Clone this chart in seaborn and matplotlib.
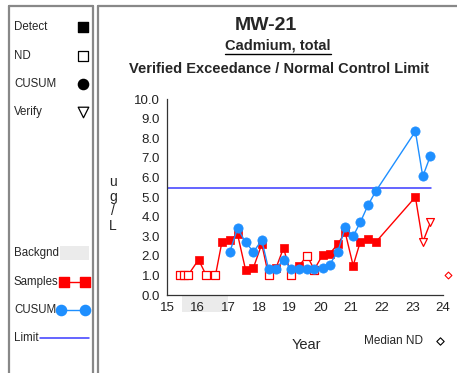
import seaborn as sns
import pandas as pd
import matplotlib.pyplot as plt
from matplotlib.patches import Rectangle
from matplotlib.lines import Line2D


# sample dates (2-digit decimal years) and results in ug/L
sample_year = [15.42, 15.55, 15.68, 16.03, 16.28, 16.58, 16.79, 17.05, 17.3, 17.56,
               17.82, 18.09, 18.31, 18.56, 18.8, 19.05, 19.31, 19.57, 19.8, 20.08,
               20.3, 20.57, 20.81, 21.07, 21.3, 21.56, 21.81, 23.1, 23.34, 23.59]
sample_value = [1.0, 1.0, 1.0, 1.8, 1.0, 1.0, 2.7, 2.8, 3.1, 1.3,
                1.4, 2.6, 1.0, 1.4, 2.4, 1.0, 1.5, 2.0, 1.3, 2.05,
                2.1, 2.6, 3.2, 1.5, 2.7, 2.85, 2.7, 5.0, 2.7, 3.7]
sample_kind = ['ND', 'ND', 'ND', 'Detect', 'ND', 'ND', 'Detect', 'Detect', 'Detect', 'Detect',
               'Detect', 'Detect', 'ND', 'Detect', 'Detect', 'ND', 'Detect', 'ND', 'ND', 'Detect',
               'Detect', 'Detect', 'Detect', 'Detect', 'Detect', 'Detect', 'Detect', 'Detect', 'Verify', 'Verify']

# CUSUM starts once background period is over
cusum_year = sample_year[7:]
cusum_value = [2.2, 3.4, 2.7, 2.2, 2.8, 1.33, 1.35, 1.8, 1.33, 1.33,
               1.33, 1.33, 1.4, 1.55, 2.2, 3.45, 3.0, 3.7, 4.6, 5.3,
               8.35, 6.05, 7.1]

limit_value = 5.45
limit_years = [15.0, 23.6]
backgnd_years = [15.5, 17.0]
median_nd_year = [24.16]
median_nd_value = [1.0]

year_ticks = list(range(15, 25))
value_ticks = [0, 1, 2, 3, 4, 5, 6, 7, 8, 9, 10]

RED = '#ff0000'
BLUE = '#1e8fff'
LIMIT = '#3a3aff'

sns.set_style('white')
plt.rcParams['font.family'] = ['Liberation Sans', 'DejaVu Sans']

df = pd.DataFrame({'year': sample_year, 'value': sample_value, 'kind': sample_kind})
cusum = pd.DataFrame({'year': cusum_year, 'value': cusum_value})

fig = plt.figure(figsize=(4.57, 3.73), dpi=100)

# overlay in pixel units for frame, titles and the side legend
bg = fig.add_axes([0, 0, 1, 1])
bg.set_xlim(0, 457)
bg.set_ylim(373, 0)
bg.axis('off')

ax = fig.add_axes([167 / 457, 78 / 373, 276 / 457, 196 / 373])

sns.lineplot(x=[limit_years[0], limit_years[1]], y=[limit_value, limit_value], ax=ax,
             color=LIMIT, lw=1.1, zorder=2)
sns.lineplot(data=df, x='year', y='value', ax=ax, color=RED, lw=1, estimator=None, zorder=3)
sns.scatterplot(data=df[df.kind == 'Detect'], x='year', y='value', ax=ax, marker='s',
                color=RED, edgecolor=RED, s=38, zorder=4)
sns.scatterplot(data=df[df.kind == 'ND'], x='year', y='value', ax=ax, marker='s',
                facecolor='white', edgecolor=RED, linewidth=0.9, s=26, zorder=4)
sns.scatterplot(data=df[df.kind == 'Verify'], x='year', y='value', ax=ax, marker='v',
                facecolor='white', edgecolor=RED, linewidth=0.9, s=32, zorder=4)
sns.lineplot(data=cusum, x='year', y='value', ax=ax, color=BLUE, lw=1, estimator=None, zorder=5)
sns.scatterplot(data=cusum, x='year', y='value', ax=ax, marker='o', color=BLUE,
                edgecolor=BLUE, s=44, zorder=6)
sns.scatterplot(x=median_nd_year, y=median_nd_value, ax=ax, marker='D', facecolor='white',
                edgecolor=RED, linewidth=0.8, s=12, zorder=6)
for coll in ax.collections:
    coll.set_clip_on(False)

ax.axvspan(backgnd_years[0], backgnd_years[1], ymin=-0.088, ymax=0, color='#ebebeb',
           clip_on=False, zorder=0, lw=0)

ax.set_xlim(15, 24)
ax.set_ylim(0, 10)
ax.set_xticks(year_ticks)
ax.set_xticks([y + 0.5 for y in year_ticks[:-1]], minor=True)
ax.set_yticks(value_ticks)
ax.set_yticklabels([f'{v:.1f}' for v in value_ticks])
ax.tick_params(axis='x', which='both', direction='in', length=4, width=0.8, pad=5,
               labelsize=9.5, colors='#222222')
ax.tick_params(axis='y', direction='out', length=3, width=0.8, pad=2, labelsize=9.5,
               colors='#222222')
ax.set_xlabel('')
ax.set_ylabel('')
for side in ['top', 'right']:
    ax.spines[side].set_visible(False)
for side in ['left', 'bottom']:
    ax.spines[side].set_color('#333333')
    ax.spines[side].set_linewidth(0.9)
ax.patch.set_alpha(0)

# frames
frame = dict(color='#888888', lw=1.6)
bg.add_line(Line2D([9.3, 9.3], [6, 380], **frame))
bg.add_line(Line2D([92.7, 92.7], [6, 380], **frame))
bg.add_line(Line2D([9.3, 92.7], [6, 6], **frame))
bg.add_line(Line2D([97.7, 97.7], [6, 380], **frame))
bg.add_line(Line2D([97.7, 460], [6, 6], **frame))

# titles
bg.text(266, 25, 'MW-21', ha='center', va='center', fontsize=14, fontweight='bold')
bg.text(278, 46, 'Cadmium, total', ha='center', va='center', fontsize=10.5, fontweight='bold')
bg.add_line(Line2D([225, 331], [53.5, 53.5], color='black', lw=1))
bg.text(279, 69, 'Verified Exceedance / Normal Control Limit', ha='center', va='center',
        fontsize=10.5, fontweight='bold')

bg.text(113, 204, 'u\ng\n/\nL', ha='center', va='center', fontsize=10, linespacing=1.05)
bg.text(306, 345, 'Year', ha='center', va='center', fontsize=10.5)
bg.text(393, 341, 'Median ND', ha='center', va='center', fontsize=8.5)
bg.scatter([440], [341], marker='D', facecolor='white', edgecolor='black', linewidth=0.8, s=14)

# side legend
lsize = 8.3
for label, y in [('Detect', 27), ('ND', 56), ('CUSUM', 84), ('Verify', 112),
                 ('Backgnd', 253), ('Samples', 282), ('CUSUM', 310), ('Limit', 338)]:
    bg.text(14, y, label, ha='left', va='center', fontsize=lsize)
bg.scatter([82.5], [27.3], marker='s', color='black', s=52)
bg.scatter([82.5], [55.7], marker='s', facecolor='white', edgecolor='black', linewidth=0.9, s=44)
bg.scatter([82.5], [84], marker='o', color='black', s=54)
bg.scatter([82.5], [111.5], marker='v', facecolor='white', edgecolor='black', linewidth=0.9, s=58)
bg.add_patch(Rectangle((60, 246), 29, 14, color='#ebebeb', lw=0))
bg.add_line(Line2D([64, 85], [282, 282], color=RED, lw=1))
bg.scatter([64, 85], [282, 282], marker='s', color=RED, s=52)
bg.add_line(Line2D([61, 85], [310, 310], color=BLUE, lw=1))
bg.scatter([61, 85], [310, 310], marker='o', color=BLUE, s=54)
bg.add_line(Line2D([40, 89], [338, 338], color=LIMIT, lw=1.1))

plt.savefig('out.png', dpi=100)
